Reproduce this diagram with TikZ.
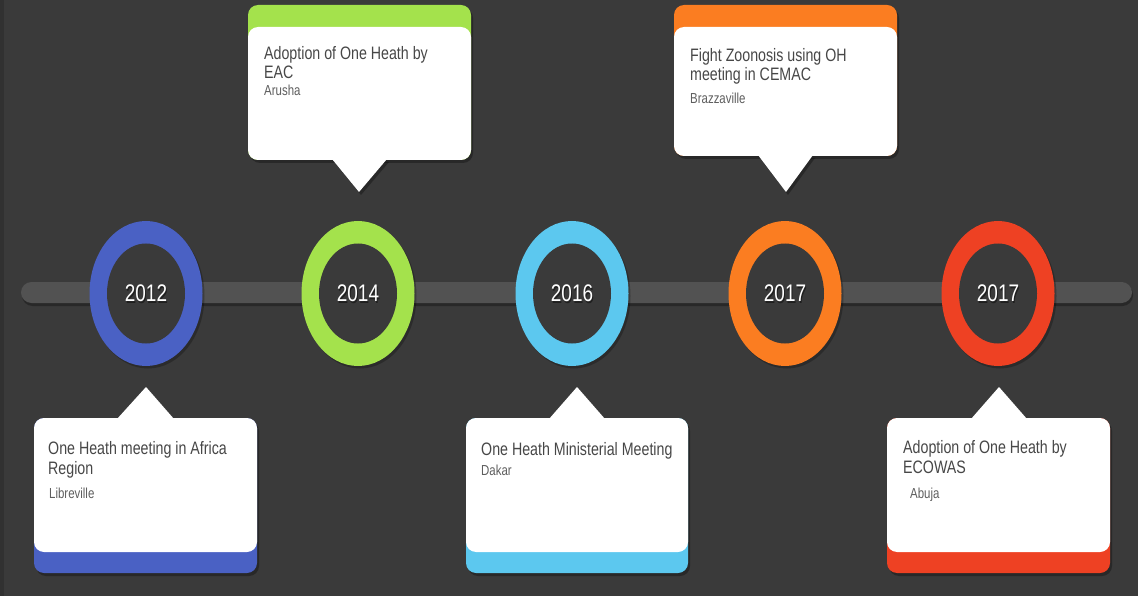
\documentclass[tikz,border=0pt]{standalone}
\usepackage{fontspec}
\setmainfont[FakeStretch=0.79]{Liberation Sans}
\usetikzlibrary{shapes.geometric}
\definecolor{bgc}{HTML}{3A3A3A}
\definecolor{barc}{HTML}{525252}
\definecolor{cblue}{HTML}{4A61C4}
\definecolor{cgreen}{HTML}{A4E24C}
\definecolor{clight}{HTML}{5CC8EF}
\definecolor{corange}{HTML}{FB7D21}
\definecolor{cred}{HTML}{EE4123}
\definecolor{ttl}{HTML}{474747}
\definecolor{sub}{HTML}{5E5E5E}
\tikzset{
  outerring/.style={ellipse, inner sep=0pt, minimum width=113pt, minimum height=145pt, fill=#1},
  innerring/.style={ellipse, inner sep=0pt, minimum width=78pt, minimum height=100pt, fill=bgc},
  year/.style={text=white, font=\fontsize{24}{24}\selectfont},
  yearshadow/.style={text=black, opacity=0.45, font=\fontsize{24}{24}\selectfont},
  title/.style={anchor=base west, inner sep=0pt, text=ttl, font=\fontsize{18}{18}\selectfont},
  subt/.style={anchor=base west, inner sep=0pt, text=sub, font=\fontsize{14.5}{14.5}\selectfont},
  shade/.style={fill=black, opacity=0.3},
  card/.style={rounded corners=10pt}
}
\begin{document}
\begin{tikzpicture}[x=1pt,y=-1pt]
\fill[bgc] (0,0) rectangle (1138,596);
\fill[black,opacity=0.15] (0,0) rectangle (4,596);
\useasboundingbox (0,0) rectangle (1138,596);
% bar
\fill[black,opacity=0.3,rounded corners=10.5pt] (22,284) rectangle (1133,306);
\fill[barc,rounded corners=10.5pt] (21,282) rectangle (1132,303);
% rings
\foreach \x/\c/\n/\yr in {146/cblue/a/2012, 358/cgreen/b/2014, 572/clight/c/2016, 785/corange/d/2017, 998/cred/e/2017}{
  \fill[black,opacity=0.25] (\x+2,296) ellipse [x radius=56.5pt, y radius=72.5pt];
  \node[outerring=\c] (ring\n) at (\x,293.5) {};
  \node[innerring] (hole\n) at (ring\n.center) {};
  \node[yearshadow] at ([xshift=1pt,yshift=-1.5pt]hole\n.center) {\yr};
  \node[year] (year\n) at (hole\n.center) {\yr};
}
% ---------- top callout 2014 (green)
\fill[shade,card] (250,8) rectangle (473,163);
\fill[shade] (334,162) -- (389,162) -- (361,195) -- cycle;
\fill[cgreen,card] (248,5) rectangle (471,160);
\fill[white,card] (248,27) rectangle (471,160);
\fill[white] (332,159) -- (387,159) -- (359,192) -- cycle;
\node[title] (t1a) at (264,60) {Adoption of One Heath by};
\node[title] (t1b) at (264,79) {EAC};
\node[subt] (t1c) at (264,96) {Arusha};
% ---------- top callout 2017 (orange)
\fill[shade,card] (676,8) rectangle (899,159);
\fill[shade] (760,158) -- (815,158) -- (788,195) -- cycle;
\fill[corange,card] (674,5) rectangle (897,156);
\fill[white,card] (674,27) rectangle (897,156);
\fill[white] (758,155) -- (813,155) -- (786,192) -- cycle;
\node[title] (t2a) at (690,62) {Fight Zoonosis using OH};
\node[title] (t2b) at (690,81) {meeting in CEMAC};
\node[subt] (t2c) at (690,104) {Brazzaville};
% ---------- bottom callout 2012 (blue)
\fill[shade,card] (36,421) rectangle (259,576);
\fill[cblue,card] (34,418) rectangle (257,573);
\fill[white,card] (34,418) rectangle (257,552);
\fill[white] (117,419) -- (174,419) -- (146,387) -- cycle;
\node[title] (b1a) at (48,454) {One Heath meeting in Africa};
\node[title] (b1b) at (48,474) {Region};
\node[subt] (b1c) at (49,498) {Libreville};
% ---------- bottom callout 2016 (light blue)
\fill[shade,card] (468,421) rectangle (690,576);
\fill[clight,card] (466,418) rectangle (688,573);
\fill[white,card] (466,418) rectangle (688,552);
\fill[white] (549,419) -- (605,419) -- (577,387) -- cycle;
\node[title] (b2a) at (481,455) {One Heath Ministerial Meeting};
\node[subt] (b2b) at (481,475) {Dakar};
% ---------- bottom callout 2017 (red)
\fill[shade,card] (889,421) rectangle (1112,576);
\fill[cred,card] (887,418) rectangle (1110,573);
\fill[white,card] (887,418) rectangle (1110,552);
\fill[white] (971,419) -- (1027,419) -- (999,387) -- cycle;
\node[title] (b3a) at (903,453) {Adoption of One Heath by};
\node[title] (b3b) at (903,473) {ECOWAS};
\node[subt] (b3c) at (910,498) {Abuja};
\end{tikzpicture}
\end{document}
